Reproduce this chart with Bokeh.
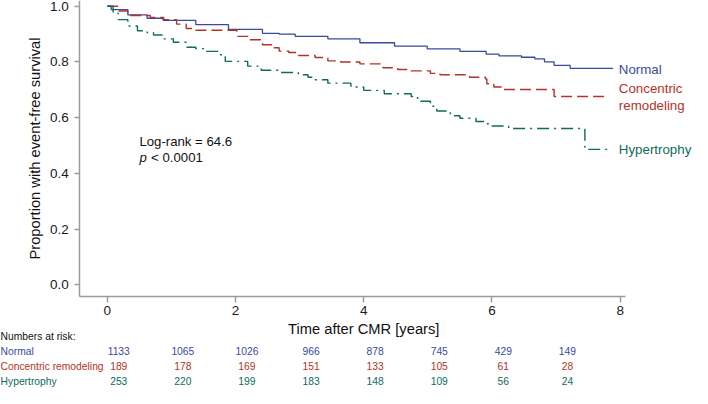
from bokeh.plotting import figure
from bokeh.models import Range1d, FixedTicker, Label, PrintfTickFormatter
from bokeh.embed import file_html
from bokeh.resources import INLINE

# ---------------- data ----------------
normal_t = [0, 0.06, 0.32, 0.62, 0.87, 1.38, 1.89, 2.42, 2.68, 2.93, 3.44, 3.94, 4.48,
            4.99, 5.50, 5.91, 6.11, 6.46, 6.67, 6.82, 6.97, 7.22, 7.89]
normal_s = [1.0, 0.988, 0.969, 0.957, 0.949, 0.934, 0.917, 0.903, 0.900, 0.892, 0.883, 0.869, 0.857,
            0.847, 0.838, 0.828, 0.822, 0.817, 0.811, 0.800, 0.788, 0.777, 0.777]

conc_t = [0, 0.16, 0.32, 0.67, 0.88, 1.08, 1.23, 1.38, 2.02, 2.22, 2.42, 2.57, 2.68, 2.83, 2.98,
          3.24, 3.44, 3.64, 3.94, 4.30, 4.53, 4.74, 5.04, 5.19, 5.65, 5.90, 5.92, 6.03, 6.15, 6.97, 7.79]
conc_s = [1.0, 0.983, 0.967, 0.960, 0.952, 0.936, 0.920, 0.914, 0.892, 0.880, 0.862, 0.851, 0.839, 0.834, 0.823,
          0.816, 0.804, 0.800, 0.793, 0.779, 0.773, 0.768, 0.759, 0.754, 0.745, 0.739, 0.722, 0.710, 0.701, 0.676, 0.676]

hyp_t = [0, 0.09, 0.17, 0.32, 0.47, 0.62, 0.72, 0.87, 1.03, 1.23, 1.38, 1.53, 1.73, 1.84, 2.19, 2.40,
         2.68, 2.98, 3.13, 3.24, 3.44, 3.80, 4.00, 4.32, 4.74, 4.84, 5.04, 5.14, 5.35, 5.50, 5.75, 5.91,
         6.00, 6.26, 7.45, 7.83]
hyp_s = [1.0, 0.975, 0.952, 0.929, 0.912, 0.906, 0.897, 0.883, 0.871, 0.853, 0.848, 0.838, 0.826, 0.802, 0.785, 0.770,
         0.762, 0.754, 0.745, 0.736, 0.724, 0.710, 0.698, 0.686, 0.676, 0.659, 0.641, 0.624, 0.607, 0.598, 0.586, 0.578,
         0.570, 0.561, 0.486, 0.486]

group_names = ["Normal", "Concentric remodeling", "Hypertrophy"]
risk_times = [0, 1, 2, 3, 4, 5, 6, 7]
risk_normal = [1133, 1065, 1026, 966, 878, 745, 429, 149]
risk_conc = [189, 178, 169, 151, 133, 105, 61, 28]
risk_hyp = [253, 220, 199, 183, 148, 109, 56, 24]

x_ticks = [0, 2, 4, 6, 8]
y_ticks = [0.0, 0.2, 0.4, 0.6, 0.8, 1.0]

# ---------------- styling ----------------
FONT = "Liberation Sans"
C_NORMAL = "#3a4a9c"
C_CONC = "#b03428"
C_HYP = "#0f6b5a"
AXIS_GREY = "#9c9c9c"

X_AXIS_SPAN = (-0.431, 8.09)
Y_AXIS_SPAN = (-0.0414, 1.0207)

p = figure(width=692, height=388,
           x_range=Range1d(-1.667, 9.129), y_range=Range1d(-0.3725, 1.0207),
           output_backend="svg", toolbar_location=None, min_border=0)
p.outline_line_color = None
p.grid.visible = False
p.background_fill_color = "white"
p.border_fill_color = "white"

for ax in (p.xaxis, p.yaxis):
    ax.axis_line_color = AXIS_GREY
    ax.axis_line_width = 1.5
    ax.major_tick_line_color = AXIS_GREY
    ax.major_tick_line_width = 1.5
    ax.major_tick_in = 0
    ax.minor_tick_line_color = None
    ax.major_label_text_font = FONT
    ax.major_label_text_font_size = "13.5px"
    ax.major_label_text_color = "#1a1a1a"

p.xaxis.ticker = FixedTicker(ticks=x_ticks)
p.xaxis.fixed_location = Y_AXIS_SPAN[0]
p.xaxis.bounds = X_AXIS_SPAN
p.xaxis.major_tick_out = 6
p.xaxis.major_label_standoff = 4

p.yaxis.ticker = FixedTicker(ticks=y_ticks)
p.yaxis.formatter = PrintfTickFormatter(format="%.1f")
p.yaxis.fixed_location = X_AXIS_SPAN[0]
p.yaxis.bounds = Y_AXIS_SPAN
p.yaxis.major_tick_out = 5
p.yaxis.major_label_standoff = 6
p.yaxis.axis_label = "Proportion with event-free survival"
p.yaxis.axis_label_text_font = FONT
p.yaxis.axis_label_text_font_size = "14.7px"
p.yaxis.axis_label_text_font_style = "normal"
p.yaxis.axis_label_text_color = "#111111"
p.yaxis.axis_label_standoff = 4

# ---------------- curves ----------------
p.step(x=normal_t, y=normal_s, mode="after", line_color=C_NORMAL, line_width=1.3)
p.step(x=conc_t, y=conc_s, mode="after", line_color=C_CONC, line_width=1.4, line_dash="11 5")
p.step(x=hyp_t, y=hyp_s, mode="after", line_color=C_HYP, line_width=1.4, line_dash="12 5 2 5")

def add_label(x, y, text, size, color="#111111", align="left", style="normal", x_offset=0):
    p.add_layout(Label(x=x, y=y, text=text, text_font=FONT, text_font_size=size,
                       text_color=color, text_align=align, text_baseline="middle",
                       text_font_style=style, x_offset=x_offset))

# x axis title (centred on the data span)
add_label(4, -0.159, "Time after CMR [years]", "14.7px", align="center")

# statistics
add_label(0.50, 0.515, "Log-rank = 64.6", "13.2px")
add_label(0.50, 0.458, "p", "13.2px", style="italic")
add_label(0.50, 0.458, "< 0.0001", "13.2px", x_offset=11.7)

# curve end labels
add_label(7.98, 0.773, "Normal", "13.3px", color=C_NORMAL)
add_label(7.98, 0.703, "Concentric", "13.3px", color=C_CONC)
add_label(7.98, 0.645, "remodeling", "13.3px", color=C_CONC)
add_label(7.98, 0.486, "Hypertrophy", "13.3px", color=C_HYP)

# numbers at risk table
add_label(-1.666, -0.186, "Numbers at risk:", "10.3px")
rows = [(group_names[0], risk_normal, C_NORMAL, -0.238),
        (group_names[1], risk_conc, C_CONC, -0.293),
        (group_names[2], risk_hyp, C_HYP, -0.347)]
for name, counts, color, yy in rows:
    add_label(-1.666, yy, name, "10.3px", color=color)
    for t, n in zip(risk_times, counts):
        add_label(t, yy, str(n), "10.3px", color=color, align="center", x_offset=11.4)

open("out.html", "w").write(file_html(p, INLINE))
